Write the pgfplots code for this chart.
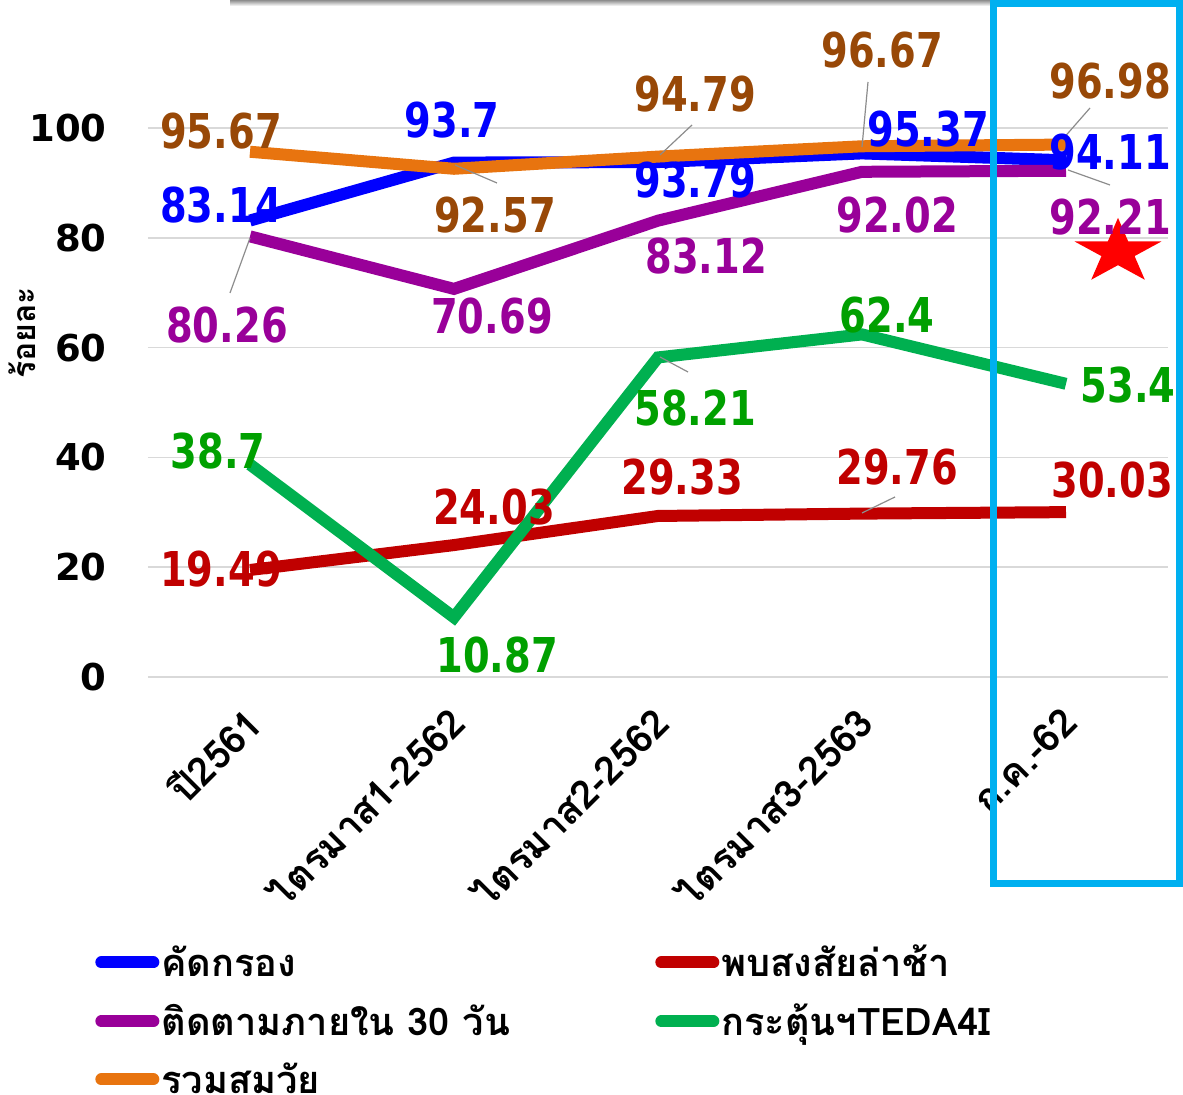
\documentclass[border=0pt]{standalone}
\usepackage{fontspec}
\setmainfont{DejaVu Sans}
\newfontfamily\numfont{DejaVu Sans}[FakeStretch=0.8]
\newfontfamily\thaifont[Script=Thai]{Loma}
\usepackage{pgfplots}
\pgfplotsset{compat=1.18}
\definecolor{cblue}{HTML}{0000FF}
\definecolor{cred}{HTML}{C00000}
\definecolor{cpurple}{HTML}{990099}
\definecolor{cgreen}{HTML}{00B050}
\definecolor{corange}{HTML}{E8740F}
\definecolor{lbrown}{HTML}{984807}
\definecolor{lgreen}{HTML}{00A000}
\definecolor{cframe}{HTML}{00B0F0}
\pgfdeclareplotmark{fstar}{%
  \pgfpathmoveto{\pgfpointpolar{90}{\pgfplotmarksize}}%
  \pgfpathlineto{\pgfpointpolar{126}{0.382\pgfplotmarksize}}%
  \pgfpathlineto{\pgfpointpolar{162}{\pgfplotmarksize}}%
  \pgfpathlineto{\pgfpointpolar{198}{0.382\pgfplotmarksize}}%
  \pgfpathlineto{\pgfpointpolar{234}{\pgfplotmarksize}}%
  \pgfpathlineto{\pgfpointpolar{270}{0.382\pgfplotmarksize}}%
  \pgfpathlineto{\pgfpointpolar{306}{\pgfplotmarksize}}%
  \pgfpathlineto{\pgfpointpolar{342}{0.382\pgfplotmarksize}}%
  \pgfpathlineto{\pgfpointpolar{18}{\pgfplotmarksize}}%
  \pgfpathlineto{\pgfpointpolar{54}{0.382\pgfplotmarksize}}%
  \pgfpathclose
  \pgfusepathqfill}
\begin{document}
\begin{tikzpicture}
\begin{axis}[
  at={(0,0)}, anchor=south west,
  width=510pt, height=274.5pt, scale only axis,
  xmin=-0.5, xmax=4.5, ymin=0, ymax=100,
  xtick={0,1,2,3,4},
  xticklabels={ปี2561, ไตรมาส1-2562, ไตรมาส2-2562, ไตรมาส3-2563, ก.ค.-62},
  ytick={0,20,40,60,80,100},
  ymajorgrids, grid style={line width=0.75pt, color=black!15},
  axis line style={draw=none}, major tick length=0pt,
  clip=false,
  /pgf/number format/assume math mode=true,
  yticklabel style={font=\bfseries\fontsize{18.5}{18.5}\selectfont, anchor=east, inner sep=0pt, xshift=-20.5pt},
  xticklabel style={font=\thaifont\bfseries\fontsize{19.5}{19.5}\selectfont, xshift=2pt, yshift=-19pt, rotate=45, anchor=east, inner sep=0pt},
  legend columns=2,
  legend cell align=left,
  legend style={draw=none, fill=none, font=\thaifont\bfseries\fontsize{19}{19}\selectfont,
    at={(rel axis cs:-0.052,-0.484)}, anchor=north west, row sep=10pt,
    inner sep=0pt, nodes={inner sep=1pt}},
  legend image code/.code={\draw[#1, line width=6pt, line cap=round] (0pt,0pt) -- (26pt,0pt);},
]
\addplot[cblue, line width=6pt] coordinates {(0,83.14) (1,93.7) (2,93.79) (3,95.37) (4,94.11)};
\addlegendentry{\makebox[246pt][l]{คัดกรอง}}
\addplot[cred, line width=6pt] coordinates {(0,19.49) (1,24.03) (2,29.33) (3,29.76) (4,30.03)};
\addlegendentry{พบสงสัยล่าช้า}
\addplot[cpurple, line width=6pt] coordinates {(0,80.26) (1,70.69) (2,83.12) (3,92.02) (4,92.21)};
\addlegendentry{\makebox[246pt][l]{ติดตามภายใน 30 วัน}}
\addplot[cgreen, line width=6pt] coordinates {(0,38.7) (1,10.87) (2,58.21) (3,62.4) (4,53.4)};
\addlegendentry{กระตุ้นฯTEDA4I}
\addplot[corange, line width=6pt] coordinates {(0,95.67) (1,92.57) (2,94.79) (3,96.67) (4,96.98)};
\addlegendentry{\makebox[246pt][l]{รวมสมวัย}}
\addplot[only marks, mark=fstar, mark size=19pt, red, mark options={xscale=1.2, yscale=0.9}, forget plot] coordinates {(4.255,77.4)};
\end{axis}
\begin{scope}[shift={(-74pt,338.5pt)}, x=0.5pt, y=-0.5pt]
  \shade[top color=black!45, bottom color=white] (230,0) rectangle (990,6);
  \draw[cframe, line width=3.5pt] (993.5,3.5) rectangle (1179.5,884);
  \node[rotate=90, font=\thaifont\bfseries\fontsize{16}{16}\selectfont] at (22,333) {ร้อยละ};
  % leader lines
  \begin{scope}[black!45, line width=0.6pt]
    \draw (455,165) -- (497,183);
    \draw (692,125) -- (660,155);
    \draw (868,82) -- (862,147);
    \draw (1090,108) -- (1062,140);
    \draw (230,293) -- (250,238);
    \draw (1110,185) -- (1068,170);
    \draw (660,357) -- (688,372);
    \draw (862,513) -- (895,497);
  \end{scope}
  \begin{scope}[every node/.style={font=\numfont\bfseries\fontsize{24}{24}\selectfont, inner sep=0pt}]
    \node[lbrown] at (221,131) {95.67};
    \node[lbrown] at (495,215) {92.57};
    \node[lbrown] at (695,94) {94.79};
    \node[lbrown] at (882,50) {96.67};
    \node[lbrown] at (1110,81) {96.98};
    \node[cblue] at (221,205) {83.14};
    \node[cblue] at (452,120) {93.7};
    \node[cblue] at (695,180) {93.79};
    \node[cblue] at (928,129) {95.37};
    \node[cblue] at (1110,152) {94.11};
    \node[cpurple] at (227,325) {80.26};
    \node[cpurple] at (492,316) {70.69};
    \node[cpurple] at (706,256) {83.12};
    \node[cpurple] at (897,215) {92.02};
    \node[cpurple] at (1110,217) {92.21};
    \node[lgreen] at (218,451) {38.7};
    \node[lgreen] at (497,655) {10.87};
    \node[lgreen] at (695,408) {58.21};
    \node[lgreen] at (887,315) {62.4};
    \node[lgreen] at (1128,385) {53.4};
    \node[cred] at (221,569) {19.49};
    \node[cred] at (494,507) {24.03};
    \node[cred] at (682,477) {29.33};
    \node[cred] at (897,467) {29.76};
    \node[cred] at (1112,480) {30.03};
  \end{scope}
  \pgfresetboundingbox
  \path (0,0) rectangle (1183,1095);
\end{scope}
\end{tikzpicture}
\end{document}
